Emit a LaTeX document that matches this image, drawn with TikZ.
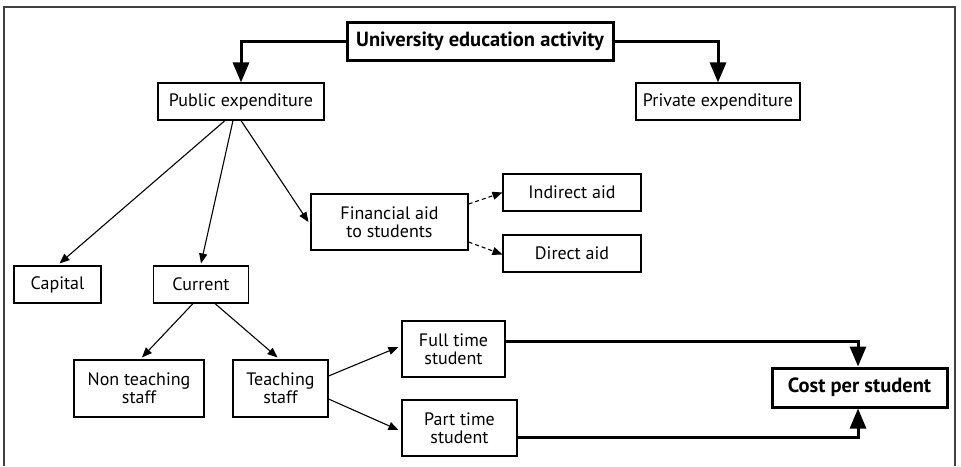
\documentclass[tikz,border=0pt]{standalone}
\usepackage{fontspec}
\setmainfont{PT Sans}
\usetikzlibrary{arrows.meta,calc}
\begin{document}
\begin{tikzpicture}[x=1pt,y=-1pt,
  box/.style={draw,line width=1.1pt,align=center,inner sep=0pt,font=\fontsize{18}{18}\selectfont},
  bigbox/.style={box,line width=3pt,font=\fontsize{20.5}{22}\selectfont\bfseries},
  thinarrow/.style={line width=1.1pt,-{Triangle[length=10pt,width=8pt]}},
  dasharrow/.style={thinarrow,dash pattern=on 4pt off 3pt},
  thickarrow/.style={line width=3pt,-{Triangle[length=20pt,width=16pt]}}]
\useasboundingbox (0,0) rectangle (961,466);
\draw[line width=1.2pt,black!75] (4,466) -- (4,7) -- (955,7) -- (955,466);
\node[bigbox,minimum width=266pt,minimum height=38pt] (univ) at (480,41) {University education activity};
\node[box,minimum width=166pt,minimum height=37pt] (public) at (241,101.5) {Public expenditure};
\node[box,minimum width=164pt,minimum height=37pt] (private) at (718,101.5) {Private expenditure};
\node[box,minimum width=87pt,minimum height=37pt] (capital) at (57.5,284.5) {Capital};
\node[box,minimum width=95pt,minimum height=37pt] (current) at (201,284.5) {Current};
\node[box,minimum width=157pt,minimum height=56pt] (fin) at (389.5,222) {Financial aid\\to students};
\node[box,minimum width=138pt,minimum height=37pt] (indirect) at (572,192.5) {Indirect aid};
\node[box,minimum width=138pt,minimum height=37pt] (direct) at (572,253.5) {Direct aid};
\node[box,minimum width=130pt,minimum height=57pt] (nonteach) at (139,388.5) {Non teaching\\staff};
\node[box,minimum width=95pt,minimum height=57pt] (teach) at (280.5,388.5) {Teaching\\staff};
\node[box,minimum width=103pt,minimum height=56pt] (full) at (453.5,349) {Full time\\student};
\node[box,minimum width=115pt,minimum height=56pt] (part) at (459.5,428) {Part time\\student};
\node[bigbox,minimum width=175pt,minimum height=39pt] (cost) at (859.5,387.5) {Cost per student};
\draw[thickarrow] (univ.west) -| (public.north);
\draw[thickarrow] (univ.east) -| (private.north);
\draw[thinarrow] ([xshift=-16pt]public.south) -- ([xshift=2pt,yshift=2pt]capital.north);
\draw[thinarrow] ([xshift=-8pt]public.south) -- ([yshift=2pt]current.north);
\draw[thinarrow] (public.south) -- ([xshift=-2pt]fin.west);
\draw[dasharrow] ([yshift=18pt]fin.east) -- (indirect.west);
\draw[dasharrow] ([yshift=-20pt]fin.east) -- ([yshift=-1pt]direct.west);
\draw[thinarrow] ([xshift=-8pt]current.south) -- ([xshift=3pt,yshift=2pt]nonteach.north);
\draw[thinarrow] ([xshift=14pt]current.south) -- ([xshift=-3pt,yshift=2pt]teach.north);
\draw[thinarrow] ([yshift=12.5pt]teach.east) -- ([xshift=-3pt,yshift=2pt]full.west);
\draw[thinarrow] ([yshift=-10.5pt]teach.east) -- ([xshift=-3pt,yshift=-2pt]part.west);
\draw[thickarrow] ([yshift=8pt]full.east) -| ([xshift=-1.5pt]cost.north);
\draw[thickarrow] ([yshift=-9pt]part.east) -| ([xshift=-1.5pt]cost.south);
\end{tikzpicture}
\end{document}
